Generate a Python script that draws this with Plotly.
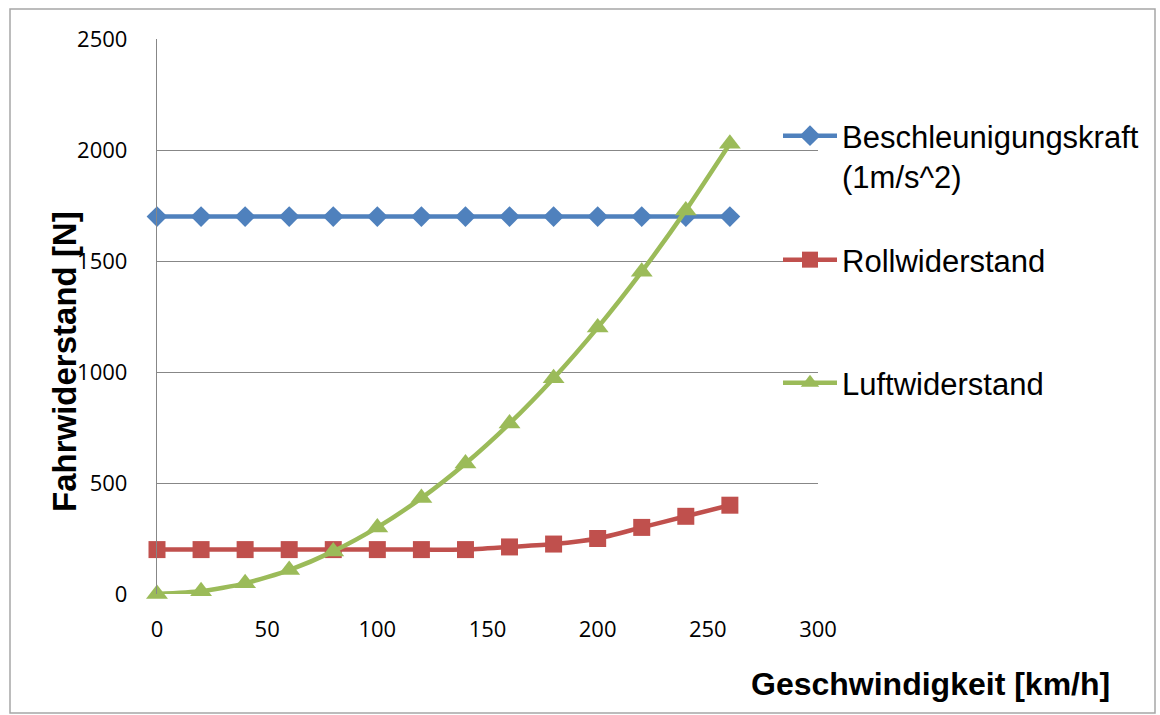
import plotly.graph_objects as go

speed = [0, 20, 40, 60, 80, 100, 120, 140, 160, 180, 200, 220, 240, 260]
beschleunigung = [1700] * 14
roll = [200, 200, 200, 200, 200, 200, 200, 200, 212, 225, 250, 300, 350, 400]
luft = [0, 12, 48, 108, 192, 300, 432, 588, 768, 972, 1200, 1452, 1728, 2028]

names = ["Beschleunigungskraft<br>(1m/s^2)", "Rollwiderstand", "Luftwiderstand"]
colors = ["#4F81BD", "#C0504D", "#9BBB59"]
symbols = ["diamond", "square", "triangle-up"]
sizes = [16, 17, 19]
series = [beschleunigung, roll, luft]
legends = ["legend", "legend2", "legend3"]

L, R, T, B = 157, 818, 39, 594
W, H = 1160, 715
pw, ph = R - L, B - T

def px(x):
    return (x - L) / pw

def py(y):
    return (B - y) / ph

fig = go.Figure()
for n, c, s, sz, ys, lg in zip(names, colors, symbols, sizes, series, legends):
    fig.add_trace(go.Scatter(
        x=speed, y=ys, name=n, mode="lines+markers",
        line=dict(color=c, width=4.5, shape="spline", smoothing=0.6),
        marker=dict(symbol=s, size=sz, color=c),
        legend=lg, cliponaxis=False, showlegend=True,
    ))

font_legend = dict(family="Liberation Sans, Arial", size=31, color="#000000")
common = dict(bgcolor="rgba(0,0,0,0)", borderwidth=0, font=font_legend,
              xref="paper", yref="paper", xanchor="left", itemwidth=54)

fig.update_layout(
    width=W, height=H, showlegend=True,
    margin=dict(l=L, r=W - R, t=T, b=H - B, autoexpand=False),
    paper_bgcolor="white", plot_bgcolor="white",
    legend=dict(x=px(778), y=py(156), yanchor="middle", valign="top", **common),
    legend2=dict(x=px(778), y=py(260), yanchor="middle", **common),
    legend3=dict(x=px(778), y=py(383), yanchor="middle", **common),
    xaxis=dict(range=[0, 300], tickvals=[0, 50, 100, 150, 200, 250, 300],
               showgrid=False, zeroline=False, showline=False, ticks="",
               ticklabelstandoff=20,
               tickfont=dict(family="Open Sans", size=22, color="#000000")),
    yaxis=dict(range=[0, 2500], tickvals=[0, 500, 1000, 1500, 2000, 2500],
               showgrid=True, gridcolor="#878787", gridwidth=1.4,
               zeroline=False, showline=True, linecolor="#878787", linewidth=1.4,
               ticks="", ticklabelstandoff=24,
               tickfont=dict(family="Open Sans", size=22, color="#000000")),
    annotations=[
        dict(text="<b>Fahrwiderstand [N]</b>", textangle=-90, xref="paper", yref="paper",
             x=px(64), y=py(362), xanchor="center", yanchor="middle", showarrow=False,
             font=dict(family="Liberation Sans, Arial", size=33, color="#000000")),
        dict(text="<b>Geschwindigkeit [km/h]</b>", xref="paper", yref="paper",
             x=px(930), y=py(684), xanchor="center", yanchor="middle", showarrow=False,
             font=dict(family="Liberation Sans, Arial", size=32, color="#000000")),
    ],
    shapes=[
        dict(type="rect", xref="paper", yref="paper",
             x0=px(10), x1=px(1155), y0=py(713), y1=py(9),
             line=dict(color="#A6A6A6", width=1.5), layer="below"),
    ],
)

fig.write_html("out.html")
